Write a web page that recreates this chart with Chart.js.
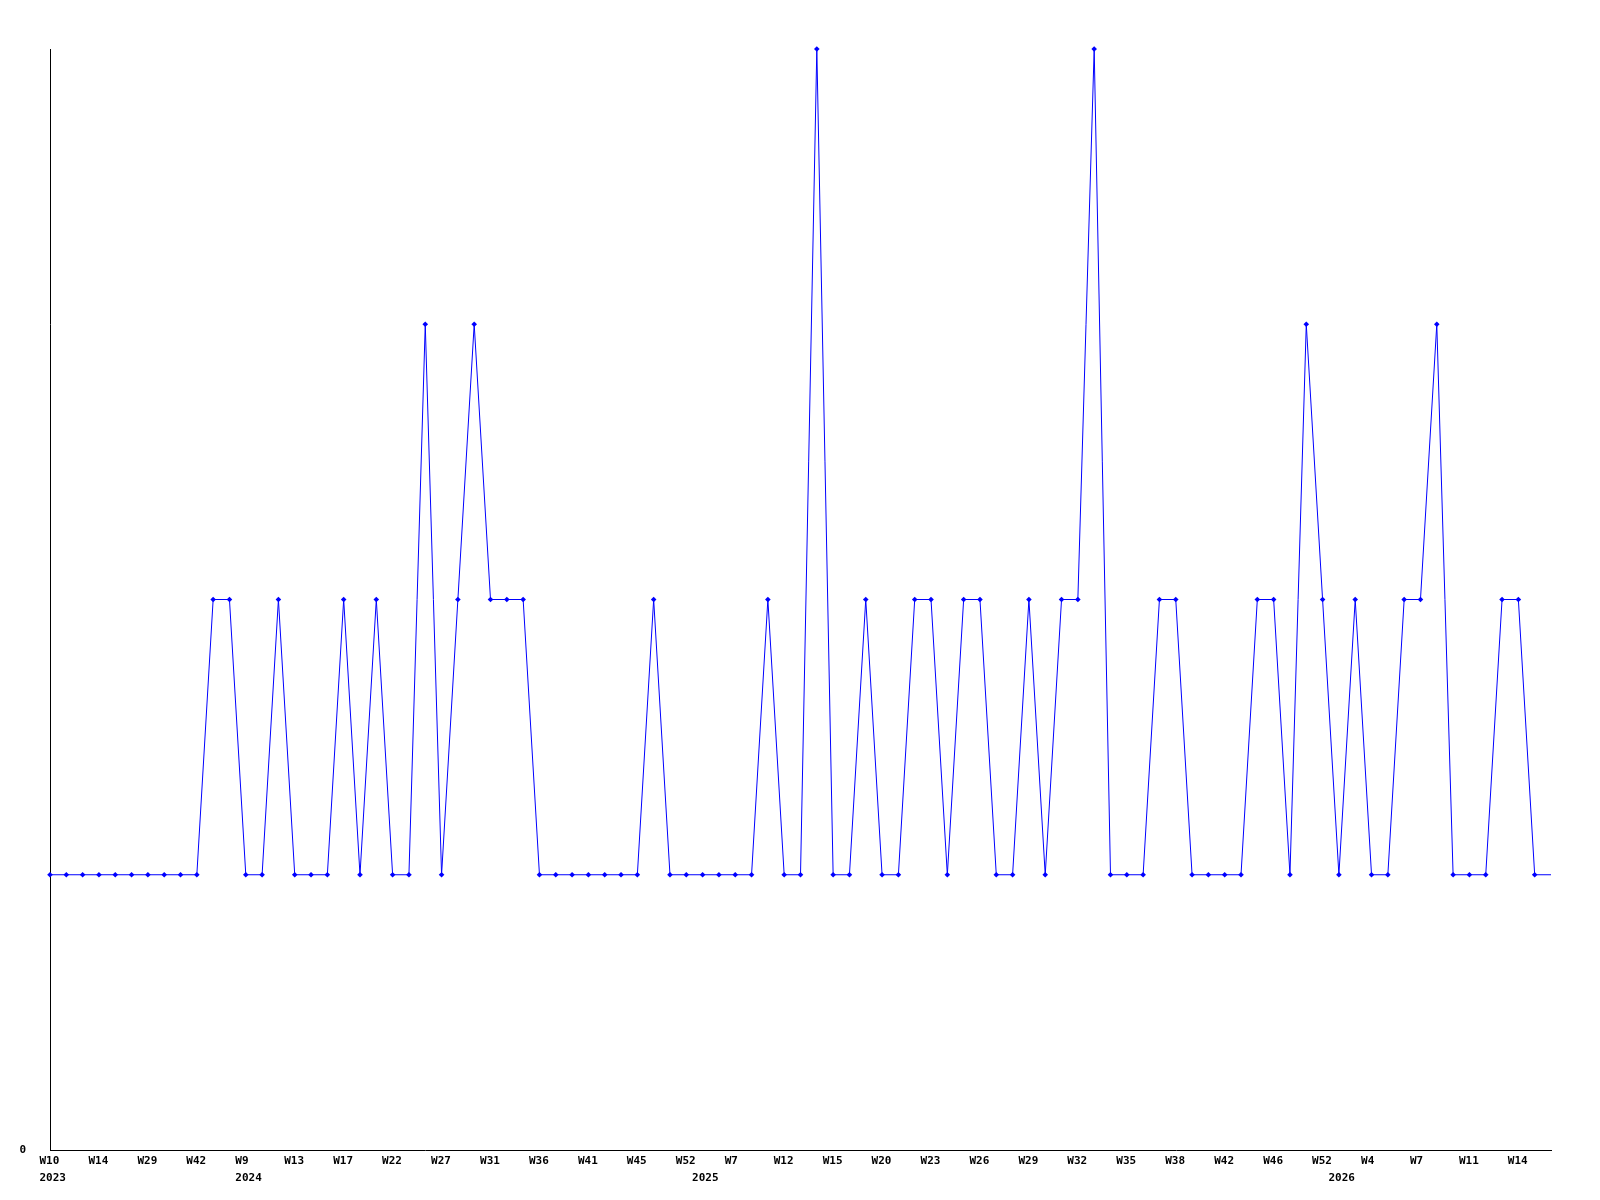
<!DOCTYPE html>
<html>
<head>
<meta charset="utf-8">
<script src="https://cdn.jsdelivr.net/npm/chart.js@4/dist/chart.umd.min.js"></script>
<style>
  html, body { margin: 0; padding: 0; background: #ffffff; }
  #c { display: block; }
</style>
</head>
<body>
<canvas id="c" width="1600" height="1200"></canvas>
<script>
// Week categories (only every third label is printed in the original; the rest are unknown and left blank)
const weekLabels = [
  'W10','','','W14','','','W29','','','W42','','',
  'W9','','','W13','','','W17','','','W22','','','W27','','','W31','','','W36','','','W41','','','W45','','','W52','',
  '','W7','','','W12','','','W15','','','W20','','','W23','','','W26','','','W29','','','W32','','','W35','','','W38','','','W42','','','W46','','','W52',
  '','','W4','','','W7','','','W11','','','W14','',''
];

// Year captions: category index -> year
const yearIndex = [0, 12, 40, 79];
const yearText  = ['2023', '2024', '2025', '2026'];

// Weekly counts
const counts = [
  1,1,1,1,1,1,1,1,1,1,2,2,
  1,1,2,1,1,1,2,1,2,1,1,3,1,2,3,2,2,2,1,1,1,1,1,1,1,2,1,1,1,
  1,1,1,2,1,1,4,1,1,2,1,1,2,2,1,2,2,1,1,2,1,2,2,4,1,1,1,2,2,1,1,1,1,2,2,1,3,2,1,
  2,1,1,2,2,3,1,1,1,2,2,1,1
];

const yTickLabels = { 0: '0' };

const FONT = { family: '"DejaVu Sans Mono", monospace', size: 11, weight: 'bold', lineHeight: 1.48 };

new Chart(document.getElementById('c'), {
  type: 'line',
  data: {
    labels: weekLabels,
    datasets: [{
      data: counts,
      borderColor: '#0000ff',
      backgroundColor: '#0000ff',
      borderWidth: 1,
      tension: 0,
      fill: false,
      pointStyle: 'rectRot',
      pointRadius: (ctx) => ctx.dataIndex === counts.length - 1 ? 0 : 2.8,
      pointBorderWidth: 0,
      pointBackgroundColor: '#0000ff',
      clip: false
    }]
  },
  options: {
    responsive: false,
    animation: false,
    devicePixelRatio: 1,
    layout: { padding: { top: 49, right: 49, left: 0, bottom: 0 } },
    plugins: { legend: { display: false }, tooltip: { enabled: false }, title: { display: false } },
    scales: {
      x: {
        type: 'category',
        offset: false,
        grid: { display: false, drawTicks: false },
        border: { display: true, color: '#000000', width: 1 },
        ticks: {
          autoSkip: false,
          maxRotation: 0,
          minRotation: 0,
          align: 'start',
          labelOffset: -10.5,
          padding: 3.5,
          color: '#000000',
          font: FONT,
          callback: function (value, index) {
            const w = weekLabels[index];
            const yi = yearIndex.indexOf(index);
            if (yi >= 0) return [w, yearText[yi]];
            return w;
          }
        },
        afterFit: (s) => { s.height = 50; }
      },
      y: {
        min: 0,
        max: 4,
        grid: { display: false, drawTicks: false },
        border: { display: true, color: '#000000', width: 1 },
        ticks: {
          stepSize: 1,
          padding: 24,
          color: '#000000',
          font: FONT,
          callback: (v) => (yTickLabels[v] !== undefined ? yTickLabels[v] : '')
        },
        afterFit: (s) => { s.width = 50; }
      }
    }
  }
});
</script>
</body>
</html>
